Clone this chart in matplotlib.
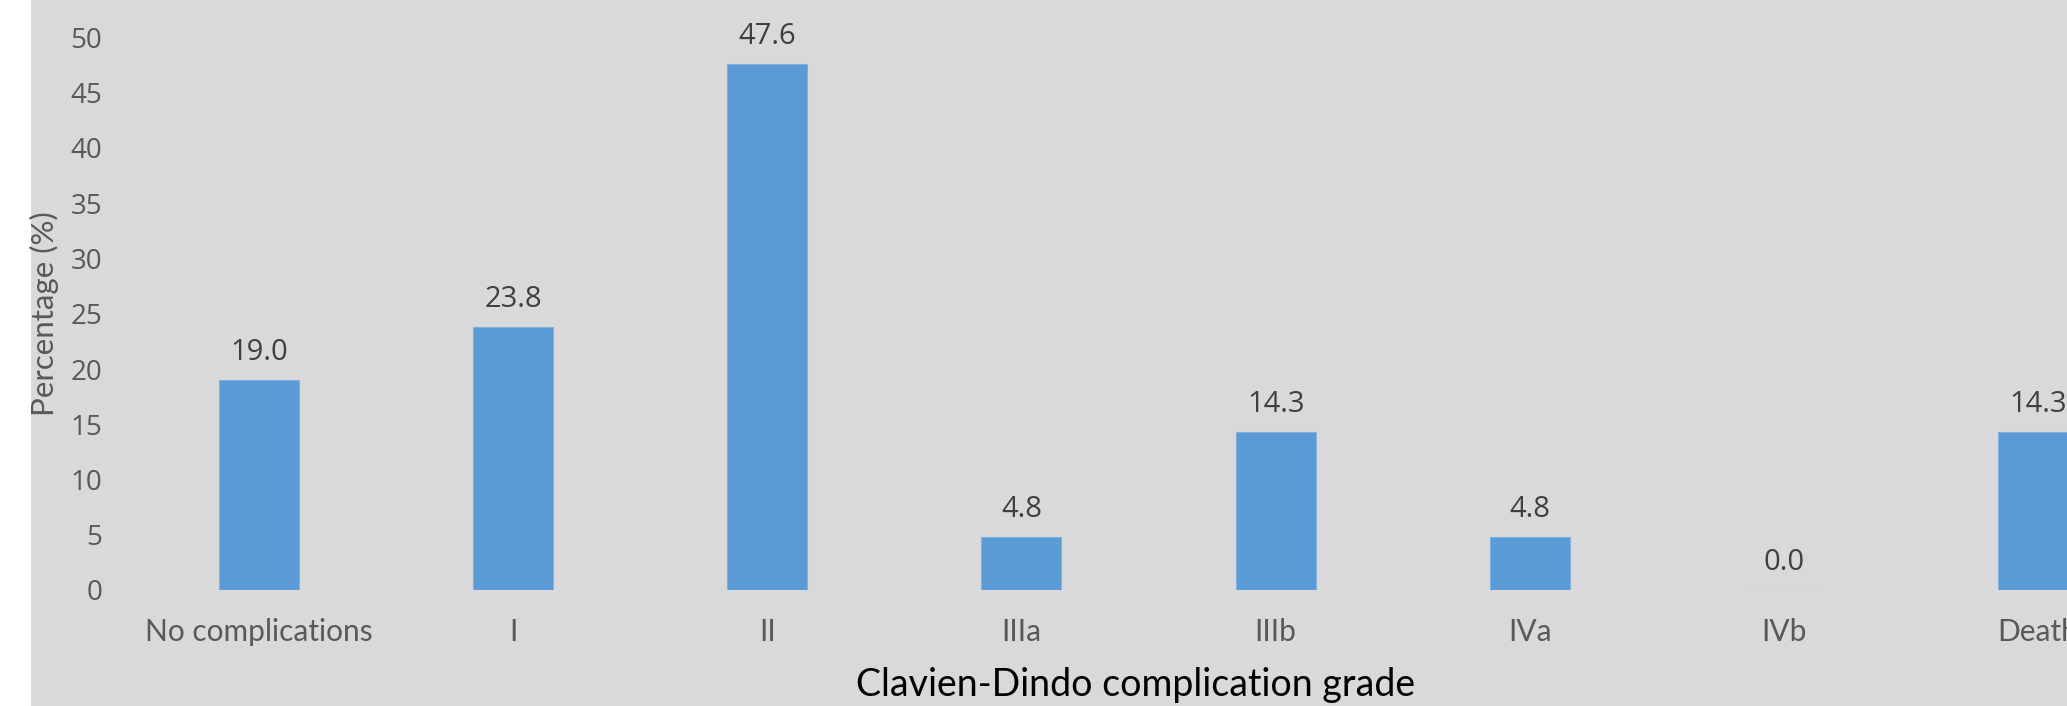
import numpy as np
import matplotlib.pyplot as plt
from matplotlib.patches import Rectangle

# Clavien-Dindo grades and share of patients (%)
grades = ['No complications', 'I', 'II', 'IIIa', 'IIIb', 'IVa', 'IVb', 'Death']
percent = [19.0, 23.8, 47.6, 4.8, 14.3, 4.8, 0.0, 14.3]
y_ticks = [0, 5, 10, 15, 20, 25, 30, 35, 40, 45, 50]

LABEL_FONT = ['Lato', 'DejaVu Sans']
NUM_FONT = ['Open Sans', 'DejaVu Sans']

W, H = 2067, 706
fig = plt.figure(figsize=(W / 100, H / 100), dpi=100)
fig.patch.set_facecolor('white')
# grey chart area, leaving a white strip on the left
fig.patches.append(Rectangle((31 / W, 0), 1, 1, transform=fig.transFigure,
                             facecolor='#d9d9d9', edgecolor='none', zorder=-10))

ax = fig.add_axes([132 / W, 1 - 590 / H, 2033 / W, 552.5 / H])
ax.set_facecolor('none')

x = np.arange(len(grades))
ax.bar(x, percent, width=0.315, color='#5b9bd5', edgecolor='#7fb1de', linewidth=0.8)

for xi, v in zip(x, percent):
    ax.annotate(f'{v:.1f}', (xi, v), xytext=(0, 14.4), textcoords='offset points',
                ha='center', va='baseline', fontsize=21, color='#404040',
                family=NUM_FONT, annotation_clip=False)

ax.set_xlim(-0.5, 7.5)
ax.set_ylim(0, 50)
ax.set_yticks(y_ticks)
ax.set_xticks(x)
ax.set_xticklabels(grades, family=LABEL_FONT, fontsize=21.5, color='#595959')
ax.set_yticklabels([str(t) for t in y_ticks], family=NUM_FONT,
                   fontsize=20, color='#595959')
for lab in ax.get_xticklabels():
    lab.set_verticalalignment('center')
ax.tick_params(axis='x', length=0, pad=30.2)
ax.tick_params(axis='y', length=0, pad=21.6)
for s in ax.spines.values():
    s.set_visible(False)

fig.text(1136 / W, 1 - 685 / H, 'Clavien-Dindo complication grade',
         ha='center', va='center', fontsize=27, color='black', family=LABEL_FONT)
fig.text(44 / W, 1 - 314 / H, 'Percentage (%)', rotation=90,
         ha='center', va='center', fontsize=22.5, color='#595959', family=LABEL_FONT)

fig.savefig('out.png', dpi=100, facecolor=fig.get_facecolor())
